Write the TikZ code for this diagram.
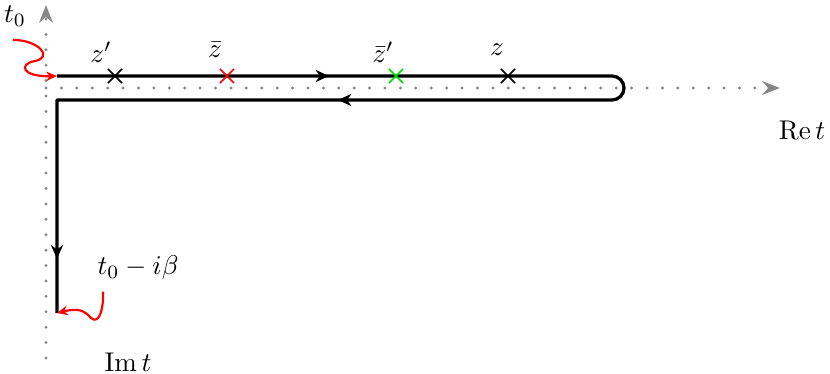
\documentclass[tikz,border=0pt]{standalone}
\usetikzlibrary{arrows.meta,decorations.markings,shapes.misc}
\definecolor{axisgray}{RGB}{135,135,135}
\definecolor{brightgreen}{RGB}{0,220,0}
\tikzset{
  axis/.style={axisgray,line width=1.2pt,line cap=round,dash pattern=on 0pt off 5.7pt,
    -{Stealth[length=6.5pt,width=5pt,line cap=butt]}},
  contour/.style={line width=1.2pt,line join=round,
    postaction={decorate},
    decoration={markings,
      mark=at position 0.2 with {\arrow{Stealth[length=5pt,width=4.5pt]}},
      mark=at position 0.637 with {\arrow{Stealth[length=5pt,width=4.5pt]}},
      mark=at position 0.96 with {\arrow{Stealth[length=5pt,width=4.5pt]}}}},
  xmark/.style={cross out,draw,minimum size=4.6pt,inner sep=0pt,line width=0.6pt},
  pointer/.style={red,line width=0.8pt,-{Stealth[length=4pt,width=3.5pt]}},
}
\begin{document}
\begin{tikzpicture}[x=0.013cm,y=-0.013cm]
\useasboundingbox (0,0) rectangle (830,374);
% axes
\coordinate (yb) at (46,358);
\coordinate (yt) at (46,5);
\coordinate (xl) at (46,88);
\coordinate (xr) at (780,88);
\draw[axis] (yb) -- (yt);
\draw[axis] (xl) -- (xr);
% contour
\coordinate (s) at (57,76);
\coordinate (a) at (612,76);
\coordinate (b) at (57,100);
\coordinate (e) at (57,313);
\draw[contour] (s) -- (a) arc (-90:90:12) -- (b) -- (e);
% crosses
\node[xmark] (c1) at (115,76) {};
\node[xmark,red] (c2) at (227,76) {};
\node[xmark,brightgreen] (c3) at (396,76) {};
\node[xmark] (c4) at (508,76) {};
\node (l1) at (101,52) {$z'$};
\node (l2) at (215,50) {$\bar z$};
\node (l3) at (383,52) {$\bar z'$};
\node (l4) at (497,50) {$z$};
% labels
\node (t0) at (15,16) {$t_0$};
\node (t0b) at (138,268) {$t_0-i\beta$};
\node (re) at (802,130) {$\mathrm{Re}\,t$};
\node (im) at (128,362) {$\mathrm{Im}\,t$};
% red pointers
\draw[pointer] (t0.south) ++(-2,4) .. controls (38,40) and (54,57) .. (35,61)
  .. controls (18,64) and (22,77) .. (s);
\draw[pointer] (t0b.south) ++(-35,2) .. controls (104,305) and (100,326) .. (91,318)
  .. controls (84,310) and (78,308) .. (e);
\end{tikzpicture}
\end{document}
